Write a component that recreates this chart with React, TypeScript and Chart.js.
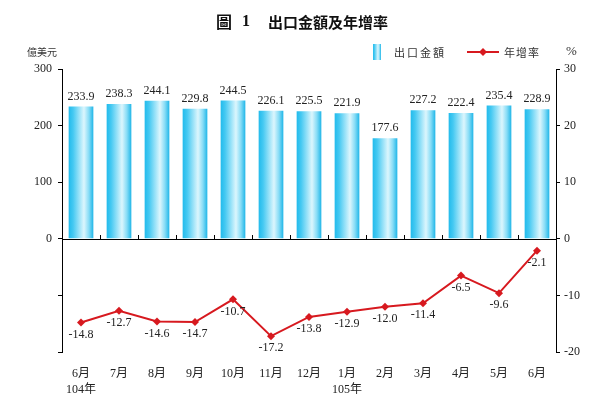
import React, { useEffect, useRef } from "react";
import { Chart, registerables } from "chart.js";

Chart.register(...registerables);

const months = ["6月", "7月", "8月", "9月", "10月", "11月", "12月", "1月", "2月", "3月", "4月", "5月", "6月"];
const years = ["104年", "", "", "", "", "", "", "105年", "", "", "", "", ""];
const exportValues = [233.9, 238.3, 244.1, 229.8, 244.5, 226.1, 225.5, 221.9, 177.6, 227.2, 222.4, 235.4, 228.9];
const growthRates = [-14.8, -12.7, -14.6, -14.7, -10.7, -17.2, -13.8, -12.9, -12.0, -11.4, -6.5, -9.6, -2.1];
const leftTicks = [0, 100, 200, 300];

const SERIF = '"Liberation Serif", "Noto Sans CJK TC", serif';
const CJK = '"Noto Sans CJK TC", sans-serif';
const RED = "#d7191f";
const BAR_PCT = 0.65;

function barGradient(c: CanvasRenderingContext2D, x0: number, x1: number) {
  const g = c.createLinearGradient(x0, 0, x1, 0);
  g.addColorStop(0, "#22bbec");
  g.addColorStop(0.18, "#45c9f2");
  g.addColorStop(0.62, "#dcf6fd");
  g.addColorStop(0.82, "#86dcf6");
  g.addColorStop(1, "#1fb6e8");
  return g;
}

function drawSpaced(c: CanvasRenderingContext2D, text: string, x: number, y: number, adv: number) {
  c.textAlign = "left";
  for (let i = 0; i < text.length; i++) c.fillText(text[i], x + i * adv, y);
}

const overlay = {
  id: "overlay",
  afterDatasetsDraw(chart: any) {
    const c: CanvasRenderingContext2D = chart.ctx;
    const ys = chart.scales.y;
    const area = chart.chartArea;
    const y0 = ys.getPixelForValue(0);
    c.save();
    c.strokeStyle = "#000";
    c.lineWidth = 1;
    c.beginPath();
    c.moveTo(area.left, Math.round(y0) + 0.5);
    c.lineTo(area.right, Math.round(y0) + 0.5);
    c.stroke();
    const n = months.length;
    const cw = (area.right - area.left) / n;
    c.beginPath();
    for (let k = 1; k < n; k++) {
      const x = Math.round(area.left + k * cw) + 0.5;
      c.moveTo(x, Math.round(y0));
      c.lineTo(x, Math.round(y0) - 4);
    }
    c.stroke();

    c.font = `12px ${SERIF}`;
    c.fillStyle = "#222";
    c.textAlign = "center";
    c.textBaseline = "middle";
    const barMeta = chart.getDatasetMeta(0);
    barMeta.data.forEach((el: any, i: number) => {
      c.fillText(exportValues[i].toFixed(1), el.x, el.y - 10);
    });
    const lineMeta = chart.getDatasetMeta(1);
    lineMeta.data.forEach((el: any, i: number) => {
      c.fillText(growthRates[i].toFixed(1), el.x, el.y + 12);
    });
    c.restore();
  },
  afterDraw(chart: any) {
    const c: CanvasRenderingContext2D = chart.ctx;
    c.save();
    c.fillStyle = "#111";
    c.textBaseline = "middle";
    c.font = `bold 16px ${CJK}`;
    c.textAlign = "center";
    c.fillText("圖", 224, 22);
    c.font = `bold 16px ${SERIF}`;
    c.fillText("1", 246, 22);
    c.font = `bold 15px ${CJK}`;
    drawSpaced(c, "出口金額及年增率", 268, 22, 15);

    c.fillStyle = "#333";
    c.font = `10px ${CJK}`;
    drawSpaced(c, "億美元", 27, 52, 10);
    c.font = `13px ${SERIF}`;
    c.textAlign = "left";
    c.fillText("%", 566, 52);

    c.fillStyle = barGradient(c, 373, 381);
    c.fillRect(373, 44, 8, 16);
    c.fillStyle = "#333";
    c.font = `11px ${CJK}`;
    drawSpaced(c, "出口金額", 394, 53, 13);
    c.strokeStyle = RED;
    c.lineWidth = 2;
    c.beginPath();
    c.moveTo(467, 52);
    c.lineTo(499, 52);
    c.stroke();
    c.fillStyle = RED;
    c.beginPath();
    c.moveTo(483, 48);
    c.lineTo(487, 52);
    c.lineTo(483, 56);
    c.lineTo(479, 52);
    c.closePath();
    c.fill();
    c.fillStyle = "#333";
    drawSpaced(c, "年增率", 504, 53, 12);
    c.restore();
  },
};

export default function App() {
  const ref = useRef<HTMLCanvasElement | null>(null);
  useEffect(() => {
    document.body.style.margin = "0";
    const canvas = ref.current;
    if (!canvas) return;
    const labels = months.map((m, i) => (years[i] ? [m, years[i]] : m));
    const chart = new Chart(canvas, {
      type: "bar",
      data: {
        labels,
        datasets: [
          {
            type: "bar",
            label: "出口金額",
            data: exportValues,
            yAxisID: "y",
            order: 1,
            barPercentage: BAR_PCT,
            categoryPercentage: 1,
            borderWidth: 0,
            backgroundColor: (ctx: any) => {
              const chart = ctx.chart;
              if (!chart.chartArea || ctx.dataIndex === undefined) return "#45c9f2";
              const xs = chart.scales.x;
              const cx = xs.getPixelForValue(ctx.dataIndex);
              const w = ((chart.chartArea.right - chart.chartArea.left) / months.length) * BAR_PCT;
              return barGradient(chart.ctx, cx - w / 2, cx + w / 2);
            },
          } as any,
          {
            type: "line",
            label: "年增率",
            data: growthRates,
            yAxisID: "y1",
            order: 0,
            borderColor: RED,
            backgroundColor: RED,
            borderWidth: 2,
            pointStyle: "rectRot",
            pointRadius: 4,
            pointBackgroundColor: RED,
            pointBorderColor: RED,
            pointBorderWidth: 0,
            tension: 0,
          } as any,
        ],
      },
      options: {
        responsive: false,
        animation: false,
        layout: { padding: { top: 69, left: 0, right: 0, bottom: 0 } },
        plugins: {
          legend: { display: false },
          tooltip: { enabled: false },
          title: { display: false },
        },
        scales: {
          x: {
            type: "category",
            position: "bottom",
            grid: { display: false },
            border: { display: false },
            ticks: {
              color: "#222",
              font: { family: SERIF, size: 12, lineHeight: 1.4 },
              padding: 5,
              maxRotation: 0,
              autoSkip: false,
            },
            afterFit: (s: any) => {
              s.height = 47;
            },
          },
          y: {
            type: "linear",
            position: "left",
            min: -200,
            max: 300,
            afterBuildTicks: (s: any) => {
              s.ticks = [-200, -100, ...leftTicks].map((v) => ({ value: v }));
            },
            grid: { drawOnChartArea: false, drawTicks: true, tickLength: 4, color: "#000" },
            border: { display: true, color: "#000", width: 1 },
            ticks: {
              color: "#222",
              font: { family: SERIF, size: 12 },
              padding: 6,
              callback: (v: any) => (leftTicks.includes(Number(v)) ? String(v) : ""),
            },
            afterFit: (s: any) => {
              s.width = 62;
            },
          },
          y1: {
            type: "linear",
            position: "right",
            min: -20,
            max: 30,
            ticks: {
              stepSize: 10,
              color: "#222",
              font: { family: SERIF, size: 12 },
              padding: 4,
            },
            grid: { drawOnChartArea: false, drawTicks: true, tickLength: 4, color: "#000" },
            border: { display: true, color: "#000", width: 1 },
            afterFit: (s: any) => {
              s.width = 44;
            },
          },
        },
      } as any,
      plugins: [overlay],
    });
    return () => chart.destroy();
  }, []);
  return (
    <div style={{ width: 600, height: 399, background: "#fff" }}>
      <canvas ref={ref} width={600} height={399} style={{ display: "block" }} />
    </div>
  );
}
